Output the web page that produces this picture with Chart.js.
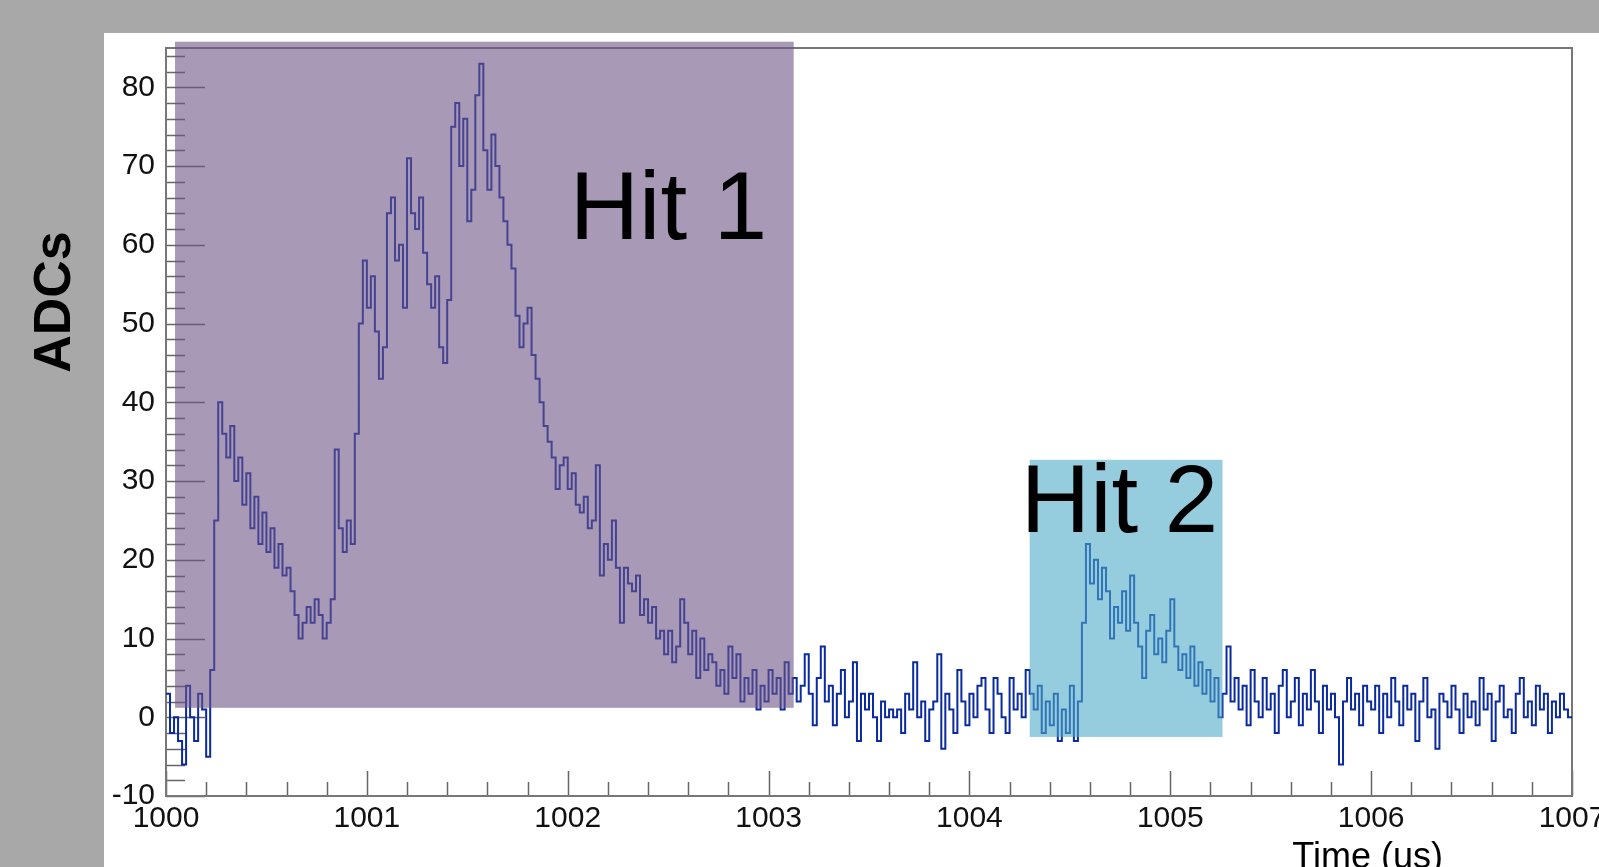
<!DOCTYPE html>
<html>
<head>
<meta charset="utf-8">
<title>ADC waveform</title>
<script src="https://cdn.jsdelivr.net/npm/chart.js@4.4.1/dist/chart.umd.min.js"></script>
<style>
  html, body { margin: 0; padding: 0; background: #a8a8a8; overflow: hidden; }
  canvas { display: block; }
</style>
</head>
<body>
<canvas id="chartCanvas" width="1599" height="867"></canvas>
<script>
// Eje de tiempo: bins de 0.02 us desde 1000 us
const binStart = 1000;
const binWidth = 0.02;

// ADC por bin, un array por microsegundo (50 bins cada uno)
const adc1000 = [3, -2, 0, -3, -6, 4, 0, -3, 3, 1,
  -5, 6, 25, 40, 36, 33, 37, 30, 33, 27,
  31, 24, 28, 22, 26, 21, 24, 19, 22, 18,
  19, 16, 13, 10, 12, 14, 12, 15, 13, 10,
  12, 15, 34, 24, 21, 25, 22, 36, 50, 58];
const adc1001 = [52, 56, 49, 43, 47, 64, 66, 58, 60, 52,
  71, 64, 62, 66, 59, 55, 52, 56, 47, 45,
  53, 75, 78, 70, 76, 63, 67, 79, 83, 72,
  67, 74, 70, 66, 63, 60, 57, 51, 47, 50,
  52, 46, 43, 40, 37, 35, 33, 29, 32, 33];
const adc1002 = [29, 31, 27, 26, 28, 24, 25, 32, 18, 22,
  20, 25, 19, 12, 19, 17, 16, 18, 13, 15,
  12, 14, 10, 11, 8, 11, 7, 9, 15, 12,
  8, 11, 5, 10, 6, 8, 7, 4, 6, 3,
  9, 5, 8, 2, 5, 3, 6, 1, 4, 2];
const adc1003 = [6, 3, 5, 1, 7, 3, 5, 2, 4, 8,
  3, -1, 5, 9, 2, 4, -1, 3, 6, 0,
  2, 7, -3, 3, 1, 3, 0, -3, 2, 0,
  1, 0, 1, -2, 3, 1, 7, 0, 2, -3,
  1, 2, 8, -4, 3, 1, -2, 6, 2, -1];
const adc1004 = [3, 0, 4, 5, 1, -2, 5, 3, 0, -2,
  5, 1, 3, 0, 6, 3, 1, 4, -2, 2,
  -1, 3, -3, 1, -2, 4, -3, 2, 12, 22,
  17, 20, 15, 19, 16, 10, 14, 12, 16, 11,
  18, 12, 9, 5, 11, 13, 8, 10, 7, 11];
const adc1005 = [15, 9, 6, 8, 5, 9, 4, 7, 3, 6,
  2, 5, 0, 3, 9, 2, 5, 1, 4, -1,
  6, 2, 0, 5, 1, 3, -2, 4, 6, 0,
  2, 5, -1, 3, 1, 6, 2, -2, 4, 1,
  3, 0, -6, 2, 5, 1, 3, -1, 4, 2];
const adc1006 = [1, 4, -2, 3, 0, 5, 2, -1, 4, 1,
  3, -3, 2, 5, 0, 1, -4, 3, 2, 0,
  4, 1, -2, 3, 0, 2, -1, 5, 1, 3,
  -3, 2, 4, 0, 1, -2, 3, 5, 0, 2,
  -1, 4, 1, 3, -2, 2, 0, 3, 1, 0];

// Etiquetas de los ejes
const xTickLabels = [1000, 1001, 1002, 1003, 1004, 1005, 1006, 1007];
const yTickLabels = [-10, 0, 10, 20, 30, 40, 50, 60, 70, 80];

// Ventanas de los hits (en unidades de datos)
const hitLabels = ['Hit 1', 'Hit 2'];
const hitStart = [1000.045, 1004.30];
const hitEnd = [1003.125, 1005.26];
const hitLow = [1.2, -2.5];
const hitHigh = [85.8, 32.7];

const FONT = "'Liberation Sans', Arial, Helvetica, sans-serif";
const hitColors = ['rgba(110, 85, 135, 0.6)', 'rgba(76, 170, 199, 0.59)'];
const hitTextAt = [[1002.01, 60.8], [1004.256, 23.5]];

const adcBins = [].concat(adc1000, adc1001, adc1002, adc1003, adc1004, adc1005, adc1006);
const points = adcBins.map((v, i) => ({ x: binStart + i * binWidth, y: v }));
points.push({ x: binStart + adcBins.length * binWidth, y: adcBins[adcBins.length - 1] });

// Fondo gris + panel blanco, marco y ticks interiores estilo ROOT
const rootStyle = {
  id: 'rootStyle',
  beforeDraw(chart) {
    const ctx = chart.ctx;
    ctx.save();
    ctx.fillStyle = '#a8a8a8';
    ctx.fillRect(0, 0, chart.width, chart.height);
    ctx.fillStyle = '#ffffff';
    ctx.fillRect(104, 33, chart.width - 104, chart.height - 33);
    ctx.restore();
  },
  beforeDatasetsDraw(chart) {
    const ctx = chart.ctx;
    const a = chart.chartArea;
    const xs = chart.scales.x;
    const ys = chart.scales.y;
    ctx.save();
    ctx.strokeStyle = '#666';
    ctx.lineWidth = 1.5;
    ctx.beginPath();
    for (let v = -10; v <= 84; v += 2) {
      const py = Math.round(ys.getPixelForValue(v)) + 0.5;
      const len = v % 10 === 0 ? 39 : 19;
      ctx.moveTo(a.left, py);
      ctx.lineTo(a.left + len, py);
    }
    for (let k = 0; k <= 35; k++) {
      const px = Math.round(xs.getPixelForValue(1000 + k * 0.2)) + 0.5;
      const len = k % 5 === 0 ? 25 : 14;
      ctx.moveTo(px, a.bottom);
      ctx.lineTo(px, a.bottom - len);
    }
    ctx.stroke();
    ctx.strokeStyle = '#777';
    ctx.lineWidth = 2;
    ctx.strokeRect(a.left, a.top, a.right - a.left, a.bottom - a.top);
    ctx.restore();
  },
  afterDatasetsDraw(chart) {
    const ctx = chart.ctx;
    const xs = chart.scales.x;
    const ys = chart.scales.y;
    ctx.save();
    hitLabels.forEach((label, i) => {
      const x0 = xs.getPixelForValue(hitStart[i]);
      const x1 = xs.getPixelForValue(hitEnd[i]);
      const y0 = ys.getPixelForValue(hitHigh[i]);
      const y1 = ys.getPixelForValue(hitLow[i]);
      ctx.fillStyle = hitColors[i];
      ctx.fillRect(x0, y0, x1 - x0, y1 - y0);
    });
    ctx.fillStyle = '#000';
    ctx.font = '96px ' + FONT;
    ctx.textAlign = 'left';
    ctx.textBaseline = 'alphabetic';
    hitLabels.forEach((label, i) => {
      ctx.fillText(label, xs.getPixelForValue(hitTextAt[i][0]), ys.getPixelForValue(hitTextAt[i][1]));
    });
    ctx.restore();
  },
  afterDraw(chart) {
    const ctx = chart.ctx;
    ctx.save();
    ctx.fillStyle = '#000';
    ctx.font = 'bold 52px ' + FONT;
    ctx.textAlign = 'center';
    ctx.textBaseline = 'alphabetic';
    ctx.translate(70, 302);
    ctx.rotate(-Math.PI / 2);
    ctx.fillText('ADCs', 0, 0);
    ctx.restore();

    ctx.save();
    ctx.fillStyle = '#000';
    ctx.font = '36px ' + FONT;
    ctx.textAlign = 'right';
    ctx.textBaseline = 'alphabetic';
    ctx.fillText('Time (us)', 1443, 868);
    ctx.restore();
  }
};

const ctx = document.getElementById('chartCanvas').getContext('2d');
const chartInstance = new Chart(ctx, {
  type: 'line',
  data: {
    datasets: [{
      data: points,
      stepped: true,
      borderColor: '#0a2aa0',
      borderWidth: 2,
      pointRadius: 0,
      fill: false,
    }],
  },
  options: {
    responsive: false,
    devicePixelRatio: 1,
    animation: false,
    layout: { padding: { top: 48, right: 27, left: 0, bottom: 0 } },
    scales: {
      x: {
        type: 'linear',
        min: 1000,
        max: 1007,
        grid: { display: false, drawTicks: false },
        border: { display: false },
        afterBuildTicks: (scale) => { scale.ticks = xTickLabels.map(v => ({ value: v })); },
        afterFit: (scale) => { scale.height = 71; scale.paddingLeft = 0; scale.paddingRight = 0; },
        ticks: {
          autoSkip: false,
          maxRotation: 0,
          padding: 5,
          color: '#111',
          font: { family: FONT, size: 30 },
          callback: (v) => String(v),
        },
      },
      y: {
        type: 'linear',
        min: -10,
        max: 85,
        grid: { display: false, drawTicks: false },
        border: { display: false },
        afterBuildTicks: (scale) => { scale.ticks = yTickLabels.map(v => ({ value: v })); },
        afterFit: (scale) => { scale.width = 166; scale.paddingTop = 0; scale.paddingBottom = 0; },
        ticks: {
          padding: 11,
          color: '#111',
          font: { family: FONT, size: 30 },
          callback: (v) => String(v),
        },
      },
    },
    plugins: {
      legend: { display: false },
      tooltip: { enabled: false },
      title: { display: false },
    },
  },
  plugins: [rootStyle],
});
</script>
</body>
</html>
